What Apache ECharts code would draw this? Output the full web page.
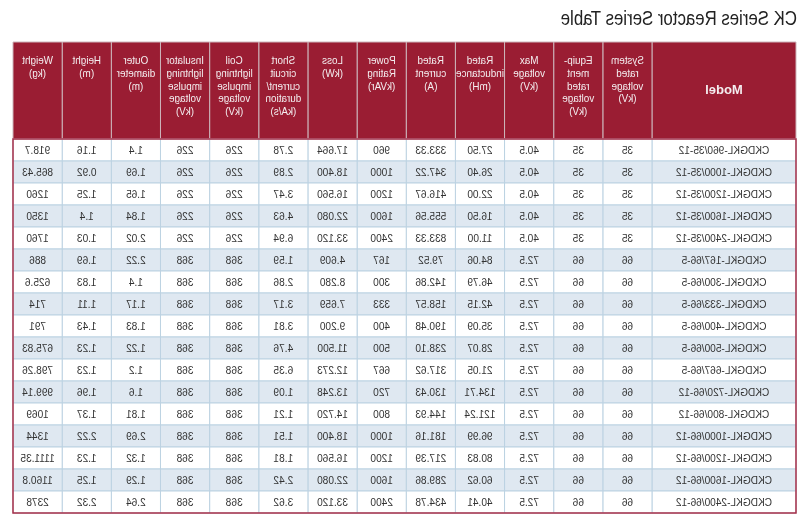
<!DOCTYPE html>
<html><head><meta charset="utf-8">
<script src="https://cdn.jsdelivr.net/npm/echarts@6/dist/echarts.min.js"></script>
<style>html,body{margin:0;padding:0;background:#fff;}#chart{width:805px;height:523px;transform:scaleX(-1);}</style>
</head><body><div id="chart"></div>
<script>
const chartTitle = 'CK Series Reactor Series Table';
const headers = ['Model','System\nrated\nvoltage\n(kV)','Equip-\nment\nrated\nvoltage\n(kV)','Max\nvoltage\n(kV)','Rated\ninductance\n(mH)','Rated\ncurrent\n(A)','Power\nRating\n(kVAr)','Loss\n(kW)','Short\ncircuit\ncurrent/\nduration\n(kA/s)','Coil\nlightning\nimpulse\nvoltage\n(kV)','Insulator\nlightning\nimpulse\nvoltage\n(kV)','Outer\ndiameter\n(m)','Height\n(m)','Weight\n(kg)'];
const models = ['CKDGKL-960/35-12','CKDGKL-1000/35-12','CKDGKL-1200/35-12','CKDGKL-1600/35-12','CKDGKL-2400/35-12','CKDGKL-167/66-5','CKDGKL-300/66-5','CKDGKL-333/66-5','CKDGKL-400/66-5','CKDGKL-500/66-5','CKDGKL-667/66-5','CKDGKL-720/66-12','CKDGKL-800/66-12','CKDGKL-1000/66-12','CKDGKL-1200/66-12','CKDGKL-1600/66-12','CKDGKL-2400/66-12'];
const systemVoltage = ['35','35','35','35','35','66','66','66','66','66','66','66','66','66','66','66','66'];
const equipVoltage = ['35','35','35','35','35','66','66','66','66','66','66','66','66','66','66','66','66'];
const maxVoltage = ['40.5','40.5','40.5','40.5','40.5','72.5','72.5','72.5','72.5','72.5','72.5','72.5','72.5','72.5','72.5','72.5','72.5'];
const inductance = ['27.50','26.40','22.00','16.50','11.00','84.06','46.79','42.15','35.09','28.07','21.05','134.71','121.24','96.99','80.83','60.62','40.41'];
const ratedCurrent = ['333.33','347.22','416.67','555.56','833.33','79.52','142.86','158.57','190.48','238.10','317.62','130.43','144.93','181.16','217.39','289.86','434.78'];
const powerRating = ['960','1000','1200','1600','2400','167','300','333','400','500','667','720','800','1000','1200','1600','2400'];
const loss = ['17.664','18.400','16.560','22.080','33.120','4.609','8.280','7.659','9.200','11.500','12.273','13.248','14.720','18.400','16.560','22.080','33.120'];
const shortCircuit = ['2.78','2.89','3.47','4.63','6.94','1.59','2.86','3.17','3.81','4.76','6.35','1.09','1.21','1.51','1.81','2.42','3.62'];
const coilImpulse = ['226','226','226','226','226','368','368','368','368','368','368','368','368','368','368','368','368'];
const insulatorImpulse = ['226','226','226','226','226','368','368','368','368','368','368','368','368','368','368','368','368'];
const outerDiameter = ['1.4','1.69','1.65','1.84','2.02','2.22','1.4','1.17','1.83','1.22','1.2','1.6','1.81','2.69','1.32','1.29','2.64'];
const heightM = ['1.16','0.92','1.25','1.4','1.03','1.69','1.83','1.11','1.43','1.23','1.23','1.96','1.37','2.22','1.23','1.25','2.32'];
const weightKg = ['918.7','865.43','1260','1350','1760','886','625.6','714','791','675.83','798.26','999.14','1069','1344','1111.35','1160.8','2378'];

const columns = [models, systemVoltage, equipVoltage, maxVoltage, inductance, ratedCurrent, powerRating, loss, shortCircuit, coilImpulse, insulatorImpulse, outerDiameter, heightM, weightKg];

// layout
const MODEL_W = 2.93;            // model column width in narrow-column units
const HEADER_U = 4.41;           // header height in row units
const NROWS = models.length;
const XMAX = MODEL_W + columns.length - 1;
const colStart = c => c === 0 ? 0 : MODEL_W + c - 1;
const colEnd = c => c === 0 ? MODEL_W : MODEL_W + c;
const FONT = '"Liberation Sans", Arial, sans-serif';

const cellData = [], cellText = [];
for (let r = 0; r < NROWS; r++) {
  for (let c = 0; c < columns.length; c++) {
    cellData.push([c, r]);
    cellText.push(columns[c][r]);
  }
}
const headData = headers.map((h, c) => [c, -HEADER_U]);

const chart = echarts.init(document.getElementById('chart'), null, {renderer: 'canvas'});
chart.setOption({
  animation: false,
  graphic: [{type: 'text', left: 8, top: 9, scaleX: 0.84,
    style: {text: chartTitle, font: '20px ' + FONT, fill: '#222'}}],
  grid: {left: 9, right: 13, top: 42, bottom: 10},
  xAxis: {type: 'value', min: 0, max: XMAX, show: false},
  yAxis: {type: 'value', min: -HEADER_U, max: NROWS, inverse: true, show: false},
  series: [
    {
      type: 'custom', data: headData, z: 2,
      renderItem(params, api) {
        const c = api.value(0);
        const p0 = api.coord([colStart(c), -HEADER_U]);
        const p1 = api.coord([colEnd(c), 0]);
        const w = p1[0] - p0[0], h = p1[1] - p0[1];
        const isModel = c === 0;
        return {type: 'group', children: [
          {type: 'rect', shape: {x: p0[0], y: p0[1], width: w, height: h},
           style: {fill: '#9a1d33', stroke: '#cdb5bb', lineWidth: 1}},
          {type: 'text', x: p0[0] + w / 2, y: isModel ? p0[1] + h / 2 : p0[1] + 12.5, scaleX: isModel ? 1 : 0.9,
           style: {
            text: headers[c], x: 0, y: 0,
            align: 'center', verticalAlign: isModel ? 'middle' : 'top',
            fill: '#f4eef0', font: (isModel ? 'bold 13px ' : '11px ') + FONT, lineHeight: 12.8}}
        ]};
      }
    },
    {
      type: 'custom', data: cellData, z: 2,
      renderItem(params, api) {
        const c = api.value(0), r = api.value(1);
        const p0 = api.coord([colStart(c), r]);
        const p1 = api.coord([colEnd(c), r + 1]);
        const w = p1[0] - p0[0], h = p1[1] - p0[1];
        return {type: 'group', children: [
          {type: 'rect', shape: {x: p0[0], y: p0[1], width: w, height: h},
           style: {fill: r % 2 ? '#dfe8f1' : '#ffffff', stroke: '#bcd2e2', lineWidth: 1}},
          {type: 'text', x: p0[0] + w / 2, y: p0[1] + h / 2 + 0.5, scaleX: 0.92,
           style: {
            text: cellText[params.dataIndex], x: 0, y: 0,
            align: 'center', verticalAlign: 'middle', fill: '#333', font: '11px ' + FONT}}
        ]};
      }
    },
    {
      type: 'custom', data: [[0, 0]], z: 3, silent: true,
      renderItem(params, api) {
        const p0 = api.coord([0, 0]);
        const p1 = api.coord([XMAX, NROWS]);
        return {type: 'rect', shape: {x: p0[0], y: p0[1], width: p1[0] - p0[0], height: p1[1] - p0[1]},
          style: {fill: 'none', stroke: '#a8314a', lineWidth: 1.5}};
      }
    }
  ]
});
</script></body></html>
